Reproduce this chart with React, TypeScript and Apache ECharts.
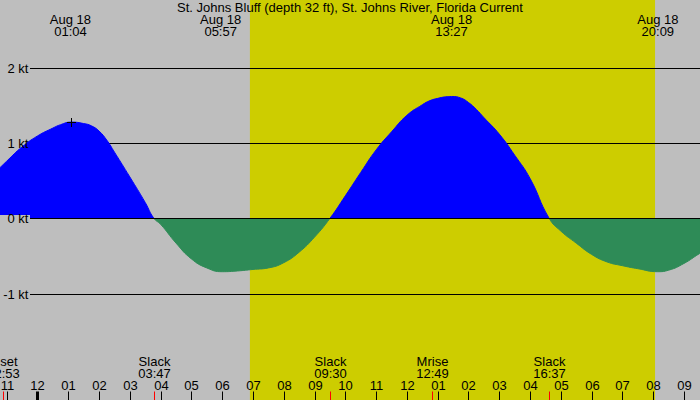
import React, { useEffect, useRef } from 'react';
import * as echarts from 'echarts';

const TITLE = 'St. Johns Bluff (depth 32 ft), St. Johns River, Florida Current';

// hours after midnight Aug 18 and current speed in knots (flood +, ebb -)
const hours = [
  -1.5, -1.0, -0.5, 0.0, 0.5, 0.75, 1.1, 1.5, 1.75, 2.0, 2.25, 2.5, 3.0, 3.5, 3.78,
  4.0, 4.5, 5.0, 5.5, 6.0, 6.5, 7.0, 7.5, 8.0, 8.5, 9.0, 9.5,
  10.0, 10.5, 11.0, 11.5, 12.0, 12.5, 12.75, 13.0, 13.25, 13.45, 13.75, 14.0, 14.25, 14.5,
  15.0, 15.5, 16.0, 16.62,
  17.0, 17.5, 18.0, 18.5, 19.0, 19.5, 20.15, 20.5, 21.0, 21.5, 22.0,
];
const speeds = [
  0.56, 0.76, 0.95, 1.095, 1.2, 1.245, 1.28, 1.26, 1.23, 1.16, 1.04, 0.88, 0.55, 0.21, 0,
  -0.08, -0.33, -0.54, -0.66, -0.71, -0.7, -0.68, -0.66, -0.59, -0.45, -0.25, 0,
  0.3, 0.61, 0.91, 1.15, 1.37, 1.51, 1.565, 1.595, 1.615, 1.62, 1.6, 1.54, 1.45, 1.34,
  1.12, 0.84, 0.53, 0,
  -0.17, -0.33, -0.48, -0.58, -0.63, -0.67, -0.71, -0.69, -0.6, -0.47, -0.35,
];

const hourTicks = [-1, 0, 1, 2, 3, 4, 5, 6, 7, 8, 9, 10, 11, 12, 13, 14, 15, 16, 17, 18, 19, 20, 21];
const hourLabels = [
  '11', '12', '01', '02', '03', '04', '05', '06', '07', '08', '09', '10',
  '11', '12', '01', '02', '03', '04', '05', '06', '07', '08', '09',
];

const ktTicks = [2, 1, 0, -1];
const ktLabels = ['2 kt', '1 kt', '0 kt', '-1 kt'];

// max flood / max ebb
const extremeTimes = [1.07, 5.95, 13.45, 20.15];
const extremeDates = ['Aug 18', 'Aug 18', 'Aug 18', 'Aug 18'];
const extremeLabels = ['01:04', '05:57', '13:27', '20:09'];

// slacks and moon events
const eventTimes = [-1.12, 3.78, 9.5, 12.82, 16.62];
const eventNames = ['Mset', 'Slack', 'Slack', 'Mrise', 'Slack'];
const eventLabels = ['22:53', '03:47', '09:30', '12:49', '16:37'];

const sunrise = 6.9;
const sunset = 20.06;
const peakMark = [1.1, 1.28];

const X_MIN = -1.218;
const X_MAX = 21.52;
const Y_MIN = -2.416;
const Y_MAX = 2.903;

const FLOOD = '#0000ff';
const EBB = '#2e8b57';
const FONT = '13px "Liberation Sans", Arial, sans-serif';

const txt = (text: string, x: number, y: number, align = 'center') => ({
  type: 'text',
  x,
  y,
  style: { text, font: FONT, lineHeight: 12, fill: '#000', align, verticalAlign: 'middle' },
});

const App: React.FC = () => {
  const chartRef = useRef<HTMLDivElement>(null);

  useEffect(() => {
    document.body.style.margin = '0';
    if (!chartRef.current) return;

    const chart = echarts.init(chartRef.current, null, { renderer: 'svg' });

    // blue above the zero line, green below (hard stop at 0 kt)
    const zeroAt = Y_MAX / (Y_MAX - Y_MIN);
    const fill = new echarts.graphic.LinearGradient(0, 0, 0, 400, [
      { offset: 0, color: FLOOD },
      { offset: zeroAt, color: FLOOD },
      { offset: zeroAt, color: EBB },
      { offset: 1, color: EBB },
    ], true);

    const custom = {
      type: 'custom',
      coordinateSystem: 'cartesian2d',
      silent: true,
    };

    const option = {
      animation: false,
      backgroundColor: '#bebebe',
      title: {
        text: TITLE,
        left: 'center',
        top: 1,
        padding: 0,
        textStyle: { fontSize: 13, fontWeight: 'normal', color: '#000', fontFamily: '"Liberation Sans", Arial, sans-serif' },
      },
      grid: { left: 0, right: 0, top: 0, bottom: 0 },
      xAxis: { type: 'value', min: X_MIN, max: X_MAX, show: false },
      yAxis: { type: 'value', min: Y_MIN, max: Y_MAX, show: false },
      series: [
        {
          // daylight band
          ...custom,
          z: 0,
          data: [[sunrise, sunset]],
          renderItem: (params: any, api: any) => {
            const x1 = api.coord([api.value(0), 0])[0];
            const x2 = api.coord([api.value(1), 0])[0];
            return {
              type: 'rect',
              shape: { x: x1, y: 0, width: x2 - x1, height: 400 },
              style: { fill: '#cdcd00' },
            };
          },
        },
        {
          // grid lines under the current
          ...custom,
          z: 1,
          data: ktTicks.filter((v) => v !== 0).map((v) => [X_MIN, v]),
          renderItem: (params: any, api: any) => {
            const y = Math.round(api.coord([api.value(0), api.value(1)])[1]) + 0.5;
            return {
              type: 'line',
              shape: { x1: 30, y1: y, x2: 700, y2: y },
              style: { stroke: '#000', lineWidth: 1 },
            };
          },
        },
        {
          name: 'Current',
          type: 'line',
          z: 2,
          smooth: 0.5,
          symbol: 'none',
          silent: true,
          data: hours.map((h, i) => [h, speeds[i]]),
          lineStyle: { width: 1, color: fill },
          areaStyle: { opacity: 1, color: fill },
        },
        {
          // zero line and kt labels
          ...custom,
          z: 3,
          data: ktTicks.map((v) => [X_MIN, v]),
          renderItem: (params: any, api: any) => {
            const v = api.value(1);
            const y = Math.round(api.coord([api.value(0), v])[1]) + 0.5;
            const children: any[] = [];
            if (v === 0) {
              children.push({ type: 'rect', shape: { x: 0, y: y - 3.5, width: 30, height: 12 }, style: { fill: '#bebebe' } });
              children.push({
                type: 'line',
                shape: { x1: 30, y1: y, x2: 700, y2: y },
                style: { stroke: '#000', lineWidth: 1 },
              });
            }
            children.push(txt(ktLabels[params.dataIndex], 28.5, y, 'right'));
            return { type: 'group', children };
          },
        },
        {
          // hour ticks along the bottom
          ...custom,
          z: 3,
          data: hourTicks.map((h) => [h, 0]),
          renderItem: (params: any, api: any) => {
            const h = api.value(0);
            const x = Math.round(api.coord([h, 0])[0]) + 0.5;
            const midnight = h % 24 === 0;
            return {
              type: 'group',
              children: [
                {
                  type: 'line',
                  shape: { x1: x, y1: 391.5, x2: x, y2: 400 },
                  style: { stroke: '#000', lineWidth: midnight ? 3 : 1 },
                },
                txt(hourLabels[params.dataIndex], x, 385.7),
              ],
            };
          },
        },
        {
          // slack and moon events
          ...custom,
          z: 4,
          data: eventTimes.map((t) => [t, 0]),
          renderItem: (params: any, api: any) => {
            const x = Math.round(api.coord([api.value(0), 0])[0]) + 0.5;
            return {
              type: 'group',
              children: [
                {
                  type: 'line',
                  shape: { x1: x, y1: 391.5, x2: x, y2: 400 },
                  style: { stroke: '#ff0000', lineWidth: 1 },
                },
                txt(eventNames[params.dataIndex] + '\n' + eventLabels[params.dataIndex], x, 367.5),
              ],
            };
          },
        },
        {
          // max flood / ebb labels along the top
          ...custom,
          z: 4,
          data: extremeTimes.map((t) => [t, 0]),
          renderItem: (params: any, api: any) => {
            const x = api.coord([api.value(0), 0])[0];
            return txt(extremeDates[params.dataIndex] + '\n' + extremeLabels[params.dataIndex], x, 25.7);
          },
        },
        {
          // small cross at first max flood
          ...custom,
          z: 4,
          data: [peakMark],
          renderItem: (params: any, api: any) => {
            const p = api.coord([api.value(0), api.value(1)]);
            const x = Math.round(p[0]) + 0.5;
            const y = Math.round(p[1]) + 0.5;
            return {
              type: 'group',
              children: [
                { type: 'line', shape: { x1: x - 4.5, y1: y, x2: x + 4.5, y2: y }, style: { stroke: '#000', lineWidth: 1 } },
                { type: 'line', shape: { x1: x, y1: y - 4.5, x2: x, y2: y + 4.5 }, style: { stroke: '#000', lineWidth: 1 } },
              ],
            };
          },
        },
      ],
    };

    chart.setOption(option as any);

    return () => {
      chart.dispose();
    };
  }, []);

  return <div ref={chartRef} style={{ width: 700, height: 400 }} />;
};

export default App;
